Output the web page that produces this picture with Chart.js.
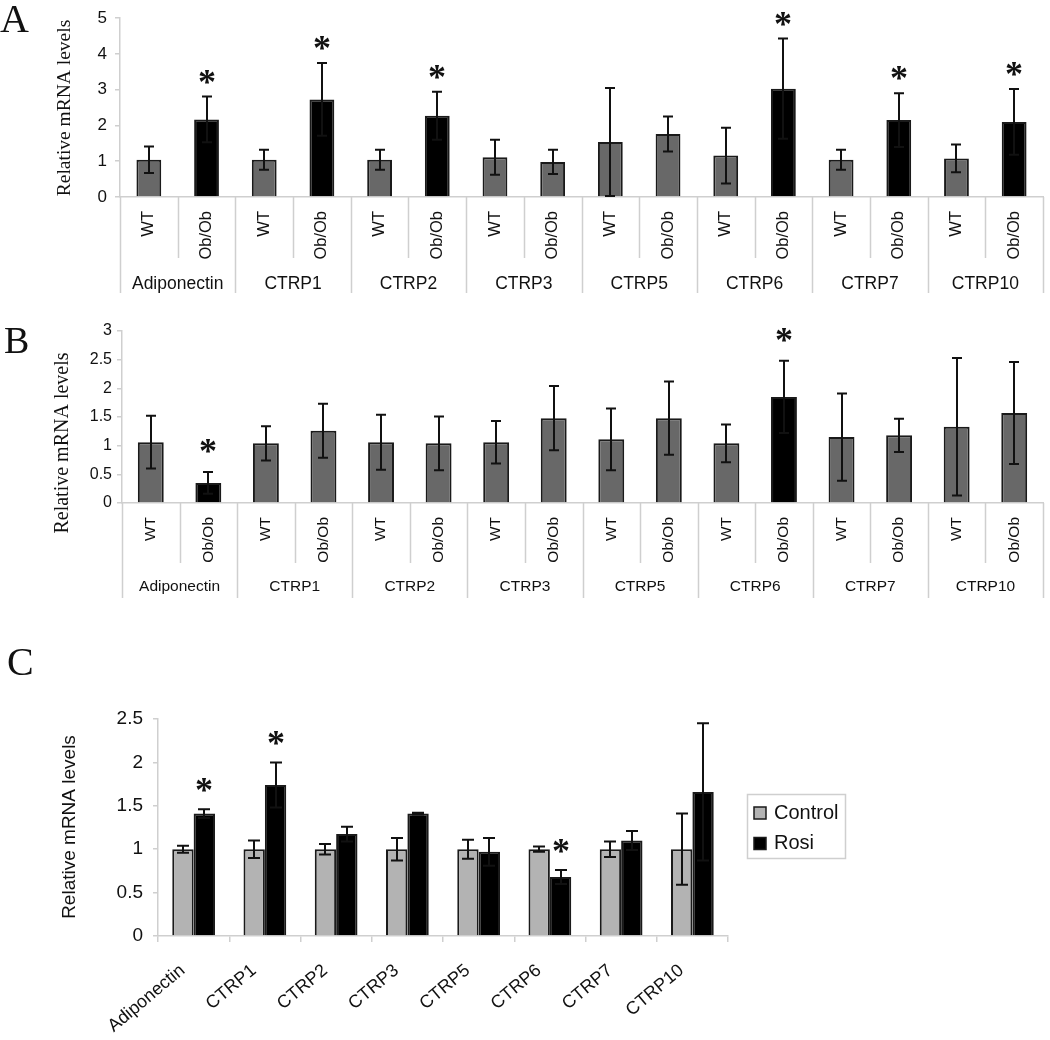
<!DOCTYPE html>
<html><head><meta charset="utf-8">
<script src="https://cdn.jsdelivr.net/npm/chart.js@4.4.1/dist/chart.umd.min.js"></script>
<style>
html,body{margin:0;padding:0;background:#fff;}
body{width:1050px;height:1040px;position:relative;overflow:hidden;}
.panel{position:absolute;left:0;width:1050px;}
</style></head><body>
<div class="panel" style="top:0;height:300px"><canvas id="cA"></canvas></div>
<div class="panel" style="top:300px;height:310px"><canvas id="cB"></canvas></div>
<div class="panel" style="top:620px;height:420px"><canvas id="cC"></canvas></div>
<script>
// ---------- data ----------
const genes = ['Adiponectin','CTRP1','CTRP2','CTRP3','CTRP5','CTRP6','CTRP7','CTRP10'];
const genotypes = ['WT','Ob/Ob'];
const yTitle = 'Relative mRNA levels';

// Panel A (WT / Ob/Ob pairs per gene)
const aMeans  = [1.04,2.17, 1.04,2.73, 1.04,2.27, 1.11,0.98, 1.54,1.76, 1.16,3.03, 1.04,2.15, 1.08,2.10];
const aErrors = [0.37,0.64, 0.28,1.02, 0.28,0.67, 0.49,0.34, 1.51,0.49, 0.78,1.40, 0.28,0.75, 0.39,0.92];
const aSig    = [0,1, 0,1, 0,1, 0,0, 0,0, 0,1, 0,1, 0,1];
const aTicks  = [0,1,2,3,4,5];

// Panel B
const bMeans  = [1.06,0.35, 1.04,1.26, 1.06,1.04, 1.06,1.48, 1.11,1.48, 1.04,1.85, 1.15,1.18, 1.33,1.57];
const bErrors = [0.46,0.19, 0.30,0.47, 0.48,0.47, 0.37,0.56, 0.54,0.64, 0.33,0.63, 0.76,0.29, 1.20,0.89];
const bSig    = [0,1, 0,0, 0,0, 0,0, 0,0, 0,1, 0,0, 0,0];
const bTicks  = [0,0.5,1,1.5,2,2.5,3];

// Panel C
const cSeries     = ['Control','Rosi'];
const cControl    = [1,1,1,1,1,1,1,1];
const cControlErr = [0.04,0.10,0.06,0.13,0.11,0.03,0.09,0.41];
const cRosi       = [1.41,1.74,1.175,1.41,0.97,0.68,1.10,1.66];
const cRosiErr    = [0.05,0.26,0.085,0.01,0.16,0.08,0.11,0.79];
const cRosiSig    = [1,1,0,0,0,1,0,0];
const cTicks      = [0,0.5,1,1.5,2,2.5];

// ---------- styling ----------
const SANS = '"Liberation Sans", Arial, sans-serif';
const SERIF = '"Liberation Serif", "Times New Roman", serif';
const AXIS = '#cfcfcf';
const GRAY = '#686868';
const LIGHT = '#b3b3b3';
const BLACK = '#000000';
const EDGE = '#1a1a1a';
const TXT = '#111111';

const abLabels = [];
genes.forEach(() => genotypes.forEach(g => abLabels.push(g)));

// ---------- plugins ----------
const errorBars = {
  id: 'errorBars',
  afterDatasetsDraw(chart, args, o) {
    const ctx = chart.ctx, y = chart.scales.y;
    chart.data.datasets.forEach((ds, di) => {
      if (!ds.errors) return;
      const meta = chart.getDatasetMeta(di);
      meta.data.forEach((bar, i) => {
        const v = ds.data[i], e = ds.errors[i];
        const yt = y.getPixelForValue(v + e);
        const yb = y.getPixelForValue(Math.max(0, v - e));
        const x = Math.round(bar.x);
        ctx.save();
        ctx.strokeStyle = TXT; ctx.lineWidth = o.width;
        ctx.beginPath();
        ctx.moveTo(x, yt); ctx.lineTo(x, yb);
        ctx.moveTo(x - o.cap, yt); ctx.lineTo(x + o.cap, yt);
        ctx.moveTo(x - o.cap, yb); ctx.lineTo(x + o.cap, yb);
        ctx.stroke();
        if (ds.sig && ds.sig[i]) {
          ctx.fillStyle = TXT;
          ctx.font = 'bold ' + o.starSize + 'px ' + SERIF;
          ctx.textAlign = 'center'; ctx.textBaseline = 'alphabetic';
          const m = ctx.measureText('*');
          const cy = yt - o.starGap;
          const base = cy + (m.actualBoundingBoxAscent - m.actualBoundingBoxDescent) / 2;
          ctx.fillText('*', x, base);
        }
        ctx.restore();
      });
    });
  }
};

const groupAxis = {
  id: 'groupAxis',
  afterDraw(chart, args, o) {
    if (!o.groups) return;
    const x = chart.scales.x, ctx = chart.ctx, base = chart.chartArea.bottom;
    const step = x.getPixelForValue(1) - x.getPixelForValue(0);
    const n = o.per;
    ctx.save();
    ctx.strokeStyle = AXIS; ctx.lineWidth = 1.5;
    for (let i = 0; i <= abLabels.length; i++) {
      const px = Math.round(x.getPixelForValue(i) - step / 2) + 0.5;
      const long = i % n === 0;
      ctx.beginPath();
      ctx.moveTo(px, base);
      ctx.lineTo(px, base + (long ? o.longLen : o.shortLen));
      ctx.stroke();
    }
    ctx.fillStyle = TXT; ctx.font = o.font;
    ctx.textAlign = 'center'; ctx.textBaseline = 'middle';
    o.groups.forEach((g, gi) => {
      const cx = (x.getPixelForValue(gi * n) + x.getPixelForValue(gi * n + n - 1)) / 2;
      ctx.fillText(g, cx, base + o.labelOffset);
    });
    ctx.restore();
  }
};

const panelText = {
  id: 'panelText',
  afterDraw(chart, args, o) {
    const ctx = chart.ctx;
    ctx.save();
    ctx.fillStyle = TXT;
    ctx.font = o.letterFont; ctx.textAlign = 'left'; ctx.textBaseline = 'alphabetic';
    ctx.fillText(o.letter, o.letterX, o.letterY);
    ctx.translate(o.titleX, o.titleY);
    ctx.rotate(-Math.PI / 2);
    ctx.font = o.titleFont; ctx.textAlign = 'center'; ctx.textBaseline = 'middle';
    ctx.fillText(o.title, 0, 0);
    ctx.restore();
  }
};

const boxLegend = {
  id: 'boxLegend',
  afterDraw(chart, args, o) {
    if (!o.display) return;
    const ctx = chart.ctx;
    ctx.save();
    ctx.strokeStyle = AXIS; ctx.lineWidth = 1.5;
    ctx.strokeRect(o.x + 0.5, o.y + 0.5, o.w, o.h);
    chart.data.datasets.forEach((ds, i) => {
      const cy = o.y + o.firstY + i * o.gap;
      const s = o.box;
      ctx.fillStyle = ds.backgroundColor;
      ctx.fillRect(o.x + o.boxX, cy - s / 2, s, s);
      ctx.strokeStyle = EDGE; ctx.lineWidth = 1.5;
      ctx.strokeRect(o.x + o.boxX, cy - s / 2, s, s);
      ctx.fillStyle = TXT; ctx.font = o.font;
      ctx.textAlign = 'left'; ctx.textBaseline = 'middle';
      ctx.fillText(ds.label, o.x + o.textX, cy);
    });
    ctx.restore();
  }
};

Chart.register(errorBars, groupAxis, panelText, boxLegend);

function ticksFrom(arr) {
  return s => { s.ticks = arr.map(v => ({ value: v })); };
}
const plainLabel = v => String(v);

function groupedChart(id, means, errors, sig, ticks, ymax, cfg) {
  return new Chart(document.getElementById(id), {
    type: 'bar',
    data: {
      labels: abLabels,
      datasets: [{
        data: means, errors: errors, sig: sig,
        backgroundColor: sig.map(s => s ? BLACK : GRAY),
        borderColor: EDGE, borderWidth: 2,
        barPercentage: cfg.barPct, categoryPercentage: 1
      }]
    },
    options: {
      responsive: true, maintainAspectRatio: false, animation: false,
      layout: { padding: { top: cfg.top, right: cfg.right, left: 0, bottom: 0 } },
      scales: {
        x: {
          grid: { display: false, drawTicks: false },
          border: { display: true, color: AXIS, width: 1.5 },
          ticks: { autoSkip: false, minRotation: 90, maxRotation: 90, padding: cfg.xPad,
                   font: { family: SANS, size: cfg.xFont }, color: TXT },
          afterFit: s => { s.height = cfg.xHeight; }
        },
        y: {
          min: 0, max: ymax,
          afterBuildTicks: ticksFrom(ticks),
          ticks: { padding: cfg.yPad, font: { family: SANS, size: cfg.yFont }, color: TXT, callback: plainLabel },
          grid: { drawOnChartArea: false, tickLength: 5, color: AXIS, lineWidth: 1.5 },
          border: { display: true, color: AXIS, width: 1.5 },
          afterFit: s => { s.width = cfg.yWidth; }
        }
      },
      plugins: {
        legend: { display: false }, tooltip: { enabled: false },
        errorBars: { width: 2, cap: 5, starSize: 36, starGap: cfg.starGap },
        groupAxis: { groups: genes, per: 2, shortLen: cfg.shortLen, longLen: cfg.longLen,
                     labelOffset: cfg.labelOffset, font: cfg.groupFont + 'px ' + SANS },
        panelText: { letter: cfg.letter, letterX: cfg.letterX, letterY: cfg.letterY,
                     letterFont: cfg.letterFont + 'px ' + SERIF,
                     title: yTitle, titleX: cfg.titleX, titleY: cfg.titleY,
                     titleFont: cfg.titleFont + 'px ' + SERIF },
        boxLegend: { display: false }
      }
    }
  });
}

groupedChart('cA', aMeans, aErrors, aSig, aTicks, 5, {
  top: 16, right: 7, barPct: 0.43, xPad: 14, xFont: 16.5, xHeight: 103,
  yPad: 8, yFont: 17, yWidth: 120, starGap: 20,
  shortLen: 61, longLen: 96, labelOffset: 87, groupFont: 17.5,
  letter: 'A', letterX: 0, letterY: 32, letterFont: 40,
  titleX: 65, titleY: 108, titleFont: 19.5
});

groupedChart('cB', bMeans, bErrors, bSig, bTicks, 3, {
  top: 31, right: 7, barPct: 0.45, xPad: 14, xFont: 15.5, xHeight: 107,
  yPad: 5, yFont: 16, yWidth: 122, starGap: 26,
  shortLen: 60, longLen: 95, labelOffset: 84, groupFont: 15.5,
  letter: 'B', letterX: 4, letterY: 53, letterFont: 38,
  titleX: 63, titleY: 143, titleFont: 20
});

new Chart(document.getElementById('cC'), {
  type: 'bar',
  data: {
    labels: genes,
    datasets: [
      { label: cSeries[0], data: cControl, errors: cControlErr, sig: null,
        backgroundColor: LIGHT, borderColor: EDGE, borderWidth: 2,
        barPercentage: 1, categoryPercentage: 0.6 },
      { label: cSeries[1], data: cRosi, errors: cRosiErr, sig: cRosiSig,
        backgroundColor: BLACK, borderColor: EDGE, borderWidth: 2,
        barPercentage: 1, categoryPercentage: 0.6 }
    ]
  },
  options: {
    responsive: true, maintainAspectRatio: false, animation: false,
    layout: { padding: { top: 99, right: 322, left: 0, bottom: 0 } },
    scales: {
      x: {
        grid: { display: true, drawOnChartArea: false, offset: true, tickLength: 6, color: AXIS, lineWidth: 1.5 },
        border: { display: true, color: AXIS, width: 1.5 },
        ticks: { autoSkip: false, minRotation: 40, maxRotation: 40, padding: 18, labelOffset: -11,
                 font: { family: SANS, size: 18 }, color: TXT },
        afterFit: s => { s.height = 104; }
      },
      y: {
        min: 0, max: 2.5,
        afterBuildTicks: ticksFrom(cTicks),
        ticks: { padding: 10, font: { family: SANS, size: 19 }, color: TXT, callback: plainLabel },
        grid: { drawOnChartArea: false, tickLength: 5, color: AXIS, lineWidth: 1.5 },
        border: { display: true, color: AXIS, width: 1.5 },
        afterFit: s => { s.width = 158; }
      }
    },
    plugins: {
      legend: { display: false }, tooltip: { enabled: false },
      errorBars: { width: 2, cap: 6, starSize: 36, starGap: 24 },
      groupAxis: { groups: null },
      panelText: { letter: 'C', letterX: 7, letterY: 55, letterFont: 40 + 'px ' + SERIF,
                   title: yTitle, titleX: 70, titleY: 207, titleFont: 19 + 'px ' + SANS },
      boxLegend: { display: true, x: 747, y: 174, w: 98, h: 64, boxX: 7, box: 12,
                   textX: 27, firstY: 19, gap: 30.5, font: 20 + 'px ' + SANS }
    }
  }
});
</script>
</body></html>
